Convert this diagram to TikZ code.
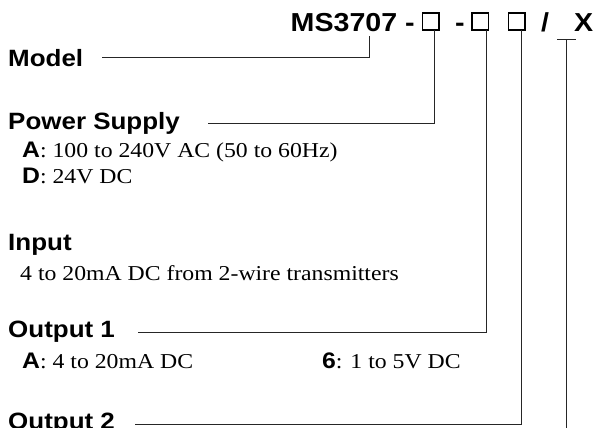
\documentclass[tikz,border=0pt]{standalone}
\usepackage{fontspec}
\setmainfont{Liberation Serif}[FakeStretch=1.12]
\newfontfamily\hdfont{Liberation Sans}[FakeStretch=1.1]
\newcommand{\optkey}[1]{{\hdfont\bfseries\fontsize{22.5}{26}\selectfont #1}}
\tikzset{
  lbl/.style={font=\hdfont\bfseries\fontsize{23.6}{28}\selectfont, inner sep=0pt, anchor=west},
  ttl/.style={font=\hdfont\bfseries\fontsize{26}{30}\selectfont, inner sep=0pt, anchor=base west},
  txt/.style={font=\fontsize{21.2}{25}\selectfont, inner sep=0pt, anchor=base west},
  slot/.style={draw=black, line width=1.6pt, minimum width=16.5pt, minimum height=17.5pt, inner sep=0pt, outer sep=0pt},
  lead/.style={draw=black!85, line width=1pt},
}
\begin{document}
\begin{tikzpicture}[x=1pt,y=-1pt]
\useasboundingbox (0,0) rectangle (597,428);
\clip (0,0) rectangle (597,428);
% title
\node[ttl] (ms) at (290.5,32) {MS3707 -};
\node[slot] (b1) at (430.75,21.5) {};
\node[ttl] (d2) at (455,32) {-};
\node[slot] (b2) at (480.25,21.5) {};
\node[slot] (b3) at (516.75,21.5) {};
\node[ttl] (sl) at (541,32) {/};
\node[ttl] (xx) at (574,32) {X};
\coordinate (u1) at (557,40);
\coordinate (u2) at (576,40);
\coordinate (ubot) at (566.5,440);
\coordinate (mtop) at (369,36);
% labels
\node[lbl] (model) at (8,58) {Model};
\draw[lead] ([xshift=19pt]model.east) -| (mtop);
\node[lbl] (ps) at (8,123) {Power Supply};
\draw[lead] ([xshift=3.75pt]b1.south) |- ([xshift=28pt]ps.east);
\node[txt] (psA) at (22,157) {\optkey{A}: 100 to 240V AC (50 to 60Hz)};
\node[txt] (psD) at (22,183) {\optkey{D}: 24V DC};
\node[lbl, anchor=base west] (in) at (8,250) {Input};
\node[txt] (inT) at (20,280) {4 to 20mA DC from 2-wire transmitters};
\node[lbl] (o1) at (8,332) {Output 1};
\draw[lead] ([xshift=5.75pt]b2.south) |- ([xshift=23pt]o1.east);
\node[txt] (o1A) at (22,368) {\optkey{A}: 4 to 20mA DC};
\node[txt] (o16) at (322,368) {\optkey{6}: 1 to 5V DC};
\node[lbl] (o2) at (8,424) {Output 2};
\draw[lead] ([xshift=4.25pt]b3.south) |- ([xshift=20pt]o2.east);
\draw[lead] (u1) -- (u2) (ubot) -- (ubot |- u1);
\end{tikzpicture}
\end{document}
